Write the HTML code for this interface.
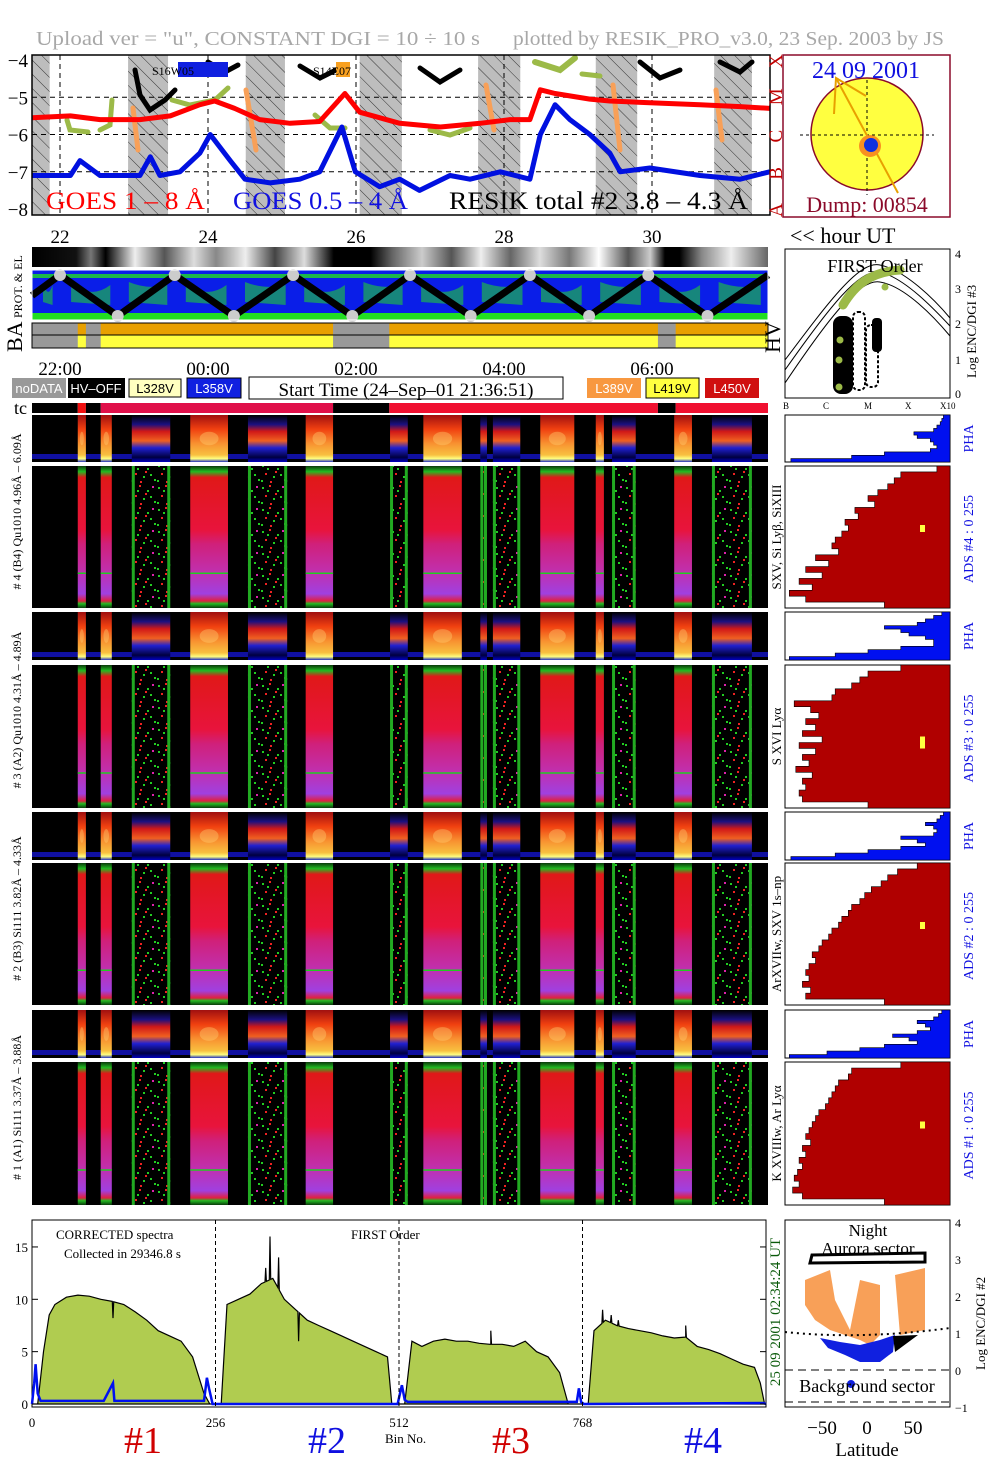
<!DOCTYPE html>
<html><head><meta charset="utf-8"><title>RESIK quicklook</title>
<style>
html,body{margin:0;padding:0;background:#fff;}
svg{display:block;font-family:"Liberation Serif",serif;}
</style></head>
<body>
<svg id="root" xmlns="http://www.w3.org/2000/svg" width="1004" height="1477" viewBox="0 0 1004 1477">
<defs>
 <pattern id="hatch" width="10" height="10" patternUnits="userSpaceOnUse" patternTransform="rotate(-45)">
  <rect width="10" height="10" fill="#bdbdbd"/><line x1="0" y1="0" x2="0" y2="10" stroke="#333" stroke-width="1"/>
 </pattern>
 <pattern id="noise" width="26" height="22" patternUnits="userSpaceOnUse">
  <rect width="26" height="22" fill="#000"/>
  <rect x="2" y="3" width="2" height="2" fill="#2c2"/><rect x="9" y="1" width="2" height="2" fill="#e22"/>
  <rect x="17" y="6" width="2" height="2" fill="#2c2"/><rect x="22" y="2" width="2" height="2" fill="#d2a"/>
  <rect x="5" y="11" width="2" height="2" fill="#e22"/><rect x="13" y="14" width="2" height="2" fill="#2c2"/>
  <rect x="20" y="12" width="2" height="2" fill="#2c2"/><rect x="1" y="18" width="2" height="2" fill="#2c2"/>
  <rect x="10" y="19" width="2" height="2" fill="#e22"/><rect x="24" y="17" width="2" height="2" fill="#2c2"/>
  <rect x="15" y="9" width="2" height="2" fill="#e22"/><rect x="7" y="6" width="2" height="2" fill="#2c2"/>
 </pattern>
 <linearGradient id="adsSolid" x1="0" y1="0" x2="0" y2="1">
  <stop offset="0" stop-color="#0a3a0a"/><stop offset="0.04" stop-color="#22bb22"/>
  <stop offset="0.08" stop-color="#e01818"/><stop offset="0.45" stop-color="#e8143c"/>
  <stop offset="0.55" stop-color="#d0207a"/><stop offset="0.75" stop-color="#c030b0"/>
  <stop offset="0.9" stop-color="#a040e0"/><stop offset="0.95" stop-color="#e02040"/>
  <stop offset="0.97" stop-color="#22bb22"/><stop offset="1" stop-color="#0a3a0a"/>
 </linearGradient>
 <linearGradient id="phaSolid" x1="0" y1="0" x2="0" y2="1">
  <stop offset="0" stop-color="#a01010"/><stop offset="0.3" stop-color="#f04010"/>
  <stop offset="0.6" stop-color="#f89030"/><stop offset="0.85" stop-color="#f8c040"/>
  <stop offset="0.93" stop-color="#ffff80"/><stop offset="1" stop-color="#2030c0"/>
 </linearGradient>
 <linearGradient id="phaNoise" x1="0" y1="0" x2="0" y2="1">
  <stop offset="0" stop-color="#000"/><stop offset="0.2" stop-color="#1a1080"/>
  <stop offset="0.35" stop-color="#d01818"/><stop offset="0.55" stop-color="#f06020"/>
  <stop offset="0.7" stop-color="#2020d0"/><stop offset="0.9" stop-color="#000040"/>
  <stop offset="1" stop-color="#0000c0"/>
 </linearGradient>
 <linearGradient id="grayStrip" x1="0" y1="0" x2="1" y2="0">
  <stop offset="0" stop-color="#000"/><stop offset="0.06" stop-color="#111"/><stop offset="0.08" stop-color="#777"/>
  <stop offset="0.1" stop-color="#000"/><stop offset="0.14" stop-color="#eee"/><stop offset="0.18" stop-color="#555"/>
  <stop offset="0.22" stop-color="#ddd"/><stop offset="0.25" stop-color="#888"/><stop offset="0.29" stop-color="#eee"/>
  <stop offset="0.33" stop-color="#444"/><stop offset="0.37" stop-color="#ddd"/><stop offset="0.41" stop-color="#000"/>
  <stop offset="0.46" stop-color="#000"/><stop offset="0.49" stop-color="#666"/><stop offset="0.53" stop-color="#ccc"/>
  <stop offset="0.57" stop-color="#555"/><stop offset="0.61" stop-color="#eee"/><stop offset="0.65" stop-color="#666"/>
  <stop offset="0.69" stop-color="#ddd"/><stop offset="0.73" stop-color="#777"/><stop offset="0.77" stop-color="#fff"/>
  <stop offset="0.81" stop-color="#555"/><stop offset="0.84" stop-color="#ccc"/><stop offset="0.86" stop-color="#000"/>
  <stop offset="0.88" stop-color="#000"/><stop offset="0.91" stop-color="#888"/><stop offset="0.95" stop-color="#eee"/>
  <stop offset="1" stop-color="#666"/>
 </linearGradient>
</defs>

<text x="36" y="45" font-size="20" fill="#a8a8a8" textLength="444" lengthAdjust="spacingAndGlyphs">Upload ver = "u", CONSTANT  DGI =  10 ÷  10 s</text>
<text x="513" y="45" font-size="20" fill="#a8a8a8" textLength="431" lengthAdjust="spacingAndGlyphs">plotted by RESIK_PRO_v3.0, 23 Sep. 2003 by JS</text>

<g id="goes"></g>
<g id="sun">
 <rect x="783" y="55" width="167" height="162" fill="#fff" stroke="#8b0a2a" stroke-width="1.5"/>
 <circle cx="867" cy="134" r="56" fill="#ffff40" stroke="#8b0a2a" stroke-width="1.5"/>
 <line x1="800" y1="135" x2="934" y2="135" stroke="#000" stroke-dasharray="3,3"/>
 <line x1="867" y1="80" x2="867" y2="195" stroke="#000" stroke-dasharray="3,3"/>
 <polyline points="834,114 836,78 866,96" fill="none" stroke="#e8a000" stroke-width="2"/>
 <line x1="836" y1="78" x2="898" y2="193" stroke="#e8a000" stroke-width="2"/>
 <circle cx="870" cy="146" r="11" fill="#f89020"/>
 <circle cx="871" cy="145" r="7" fill="#1030e0"/>
 <text x="866" y="78" font-size="24" fill="#1010e0" text-anchor="middle">24 09 2001</text>
 <text x="867" y="212" font-size="22" fill="#8b0a2a" text-anchor="middle">Dump: 00854</text>
</g>
<text x="790" y="243" font-size="22">&lt;&lt; hour UT</text>

<g id="days"></g>
<rect x="32" y="247" width="736" height="20" fill="url(#grayStrip)"/>
<g id="prot"></g>
<text x="0" y="0" font-size="12" transform="translate(22,318) rotate(-90)">PROT. &amp; EL</text>
<g id="ba"></g>
<text x="0" y="0" font-size="22" transform="translate(22,352) rotate(-90)">BA</text>
<text x="0" y="0" font-size="22" transform="translate(780,353) rotate(-90)">HV</text>

<g id="first">
 <rect x="785" y="249" width="165" height="149" fill="#fff" stroke="#000"/>
 <path d="M785,360 C830,300 860,260 880,265 C905,270 935,300 950,318" fill="none" stroke="#000"/>
 <path d="M785,370 C830,306 860,268 880,272 C905,278 935,310 950,326" fill="none" stroke="#000"/>
 <path d="M785,383 C830,316 860,278 880,282 C905,286 935,318 950,336" fill="none" stroke="#000"/>
 <path d="M843,305 C855,285 870,272 900,270" fill="none" stroke="#9cba48" stroke-width="9" stroke-linecap="round"/>
 <rect x="833" y="316" width="20" height="78" rx="8" fill="#000"/>
 <rect x="853" y="312" width="12" height="78" rx="5" fill="none" stroke="#000" stroke-width="2" stroke-dasharray="3,2"/>
 <rect x="866" y="325" width="12" height="62" rx="5" fill="none" stroke="#000" stroke-width="2" stroke-dasharray="3,2"/>
 <rect x="872" y="318" width="10" height="34" rx="4" fill="#000"/>
 <circle cx="840" cy="340" r="3.5" fill="#9cba48"/><circle cx="839" cy="360" r="3.5" fill="#9cba48"/>
 <circle cx="839" cy="387" r="3.5" fill="#9cba48"/><circle cx="885" cy="287" r="3.5" fill="#9cba48"/>
 <text x="875" y="272" font-size="18" text-anchor="middle">FIRST Order</text>
 <text x="955" y="258" font-size="12">4</text><text x="955" y="293" font-size="12">3</text>
 <text x="955" y="328" font-size="12">2</text><text x="955" y="364" font-size="12">1</text>
 <text x="955" y="398" font-size="12">0</text>
 <text x="0" y="0" font-size="13" transform="translate(976,378) rotate(-90)">Log ENC/DGI #3</text>
 <text x="783" y="409" font-size="9">B</text><text x="823" y="409" font-size="9">C</text>
 <text x="864" y="409" font-size="9">M</text><text x="905" y="409" font-size="9">X</text>
 <text x="940" y="409" font-size="9">X10</text>
</g>

<g id="times"></g>
<g>
 <rect x="12" y="378" width="54" height="20" fill="#999"/>
 <text x="39" y="393" font-size="13" fill="#fff" text-anchor="middle" font-family="Liberation Sans,sans-serif">noDATA</text>
 <rect x="68" y="378" width="57" height="20" fill="#000"/>
 <text x="96" y="393" font-size="13" fill="#fff" text-anchor="middle" font-family="Liberation Sans,sans-serif">HV–OFF</text>
 <rect x="129" y="379" width="52" height="18" fill="#ffffc0" stroke="#000"/>
 <text x="155" y="393" font-size="13" fill="#000" text-anchor="middle" font-family="Liberation Sans,sans-serif">L328V</text>
 <rect x="187" y="378" width="54" height="20" fill="#1020e0" stroke="#000"/>
 <text x="214" y="393" font-size="13" fill="#fff" text-anchor="middle" font-family="Liberation Sans,sans-serif">L358V</text>
 <rect x="249" y="377" width="314" height="22" fill="#fff" stroke="#000"/>
 <text x="406" y="396" font-size="19" text-anchor="middle">Start Time (24–Sep–01 21:36:51)</text>
 <rect x="587" y="378" width="54" height="20" fill="#f89840"/>
 <text x="614" y="393" font-size="13" fill="#fff" text-anchor="middle" font-family="Liberation Sans,sans-serif">L389V</text>
 <rect x="646" y="378" width="53" height="20" fill="#ffff40" stroke="#000"/>
 <text x="672" y="393" font-size="13" fill="#000" text-anchor="middle" font-family="Liberation Sans,sans-serif">L419V</text>
 <rect x="705" y="378" width="54" height="20" fill="#d01010"/>
 <text x="732" y="393" font-size="13" fill="#fff" text-anchor="middle" font-family="Liberation Sans,sans-serif">L450V</text>
</g>
<text x="14" y="414" font-size="18">tc</text>
<g id="tc"></g>
<g id="spec"></g>
<g id="hist"></g>
<g id="spectrum"></g>
<g id="lat"></g>
</svg>

<script>
// ---------------- DATA ----------------
const goesRedHours = [-0.38,0.14,0.54,1.08,1.49,1.89,2.09,2.36,2.7,3.11,3.51,3.85,4.05,4.59,5.14,5.68,6.08,6.35,6.49,6.69,7.16,7.43,7.97,8.65,9.19,9.59];
const goesRedValues = [-5.55,-5.5,-5.6,-5.6,-5.5,-5.2,-5.1,-5.3,-5.6,-5.7,-5.65,-4.9,-5.4,-5.7,-5.8,-5.7,-5.6,-5.6,-4.8,-4.9,-5.05,-5.1,-5.15,-5.2,-5.25,-5.3];
const goesBlueHours = [-0.38,0.14,0.27,0.54,1.08,1.22,1.35,1.62,1.89,2.03,2.3,2.5,2.84,3.24,3.51,3.81,3.99,4.32,4.59,4.86,5.27,5.54,5.95,6.35,6.49,6.69,6.89,7.16,7.43,7.57,7.97,8.65,9.19,9.59];
const goesBlueValues = [-7.1,-7.1,-6.7,-7.1,-7.1,-6.6,-7.1,-7.0,-6.5,-6.0,-6.7,-7.2,-7.3,-7.2,-7.0,-5.8,-7.0,-7.4,-7.2,-7.5,-7.1,-7.2,-7.0,-7.2,-6.0,-5.2,-5.6,-6.0,-6.5,-7.0,-6.9,-7.1,-7.2,-7.0];
const nightStart = [-0.38,0.92,2.51,4.05,5.65,7.24,8.84];
const nightEnd = [-0.14,1.46,3.04,4.62,6.22,7.8,9.35];
const yTicksGoes = [-4,-5,-6,-7,-8];
const flareClasses = ['X','M','C','B','A'];
const dayLabels = ['22','24','26','28','30'];
const timeLabels = ['22:00','00:00','02:00','04:00','06:00'];
const timeTickHours = [0,2,4,6,8];

const blockStart = [0.24,0.55,0.97,1.76,2.54,3.32,4.46,4.91,5.68,5.85,6.49,7.24,7.46,8.30,8.81];
const blockEnd   = [0.35,0.70,1.49,2.27,3.07,3.69,4.70,5.43,5.77,6.22,6.95,7.35,7.78,8.54,9.35];
const blockType  = ['s','s','n','s','n','s','n','s','n','n','s','s','n','s','n'];

const tcStart = [-0.38,0.24,0.35,0.55,3.69,4.45,8.08,8.32];
const tcEnd   = [0.24,0.35,0.55,3.69,4.45,8.08,8.32,9.57];
const tcColor = ['#000','#f01010','#000','#e0104a','#000','#f01030','#000','#f01030'];
const baGrayStart = [-0.38,0.35,3.69,8.08];
const baGrayEnd = [0.24,0.55,4.45,8.32];

const zigHours = [-0.38,0.0,0.78,1.55,2.35,3.15,3.95,4.73,5.55,6.35,7.15,7.95,8.75,9.57];
const zigLevel = [0.5,1,0,1,0,1,0,1,0,1,0,1,0,1];

const histAds4 = [0.08,0.3,0.34,0.38,0.44,0.5,0.46,0.58,0.56,0.64,0.62,0.66,0.7,0.72,0.68,0.82,0.74,0.88,0.78,0.92,0.84,0.98,0.88,0.4];
const histAds3 = [0.3,0.5,0.55,0.6,0.7,0.72,0.95,0.85,0.8,0.88,0.82,0.9,0.78,0.92,0.82,0.9,0.86,0.94,0.84,0.9,0.88,0.92,0.9,0.5];
const histAds2 = [0.2,0.32,0.38,0.42,0.48,0.52,0.55,0.6,0.62,0.66,0.68,0.72,0.74,0.78,0.8,0.84,0.82,0.86,0.88,0.86,0.9,0.85,0.88,0.4];
const histAds1 = [0.3,0.6,0.62,0.68,0.7,0.72,0.74,0.76,0.8,0.82,0.84,0.86,0.88,0.85,0.9,0.88,0.92,0.9,0.93,0.95,0.92,0.96,0.9,0.4];
const histPha4 = [0.04,0.05,0.06,0.08,0.1,0.22,0.2,0.12,0.1,0.08,0.12,0.4,0.6,0.97];
const histPha3 = [0.05,0.1,0.15,0.2,0.4,0.3,0.25,0.15,0.1,0.1,0.3,0.5,0.7,0.98];
const histPha2 = [0.04,0.06,0.08,0.15,0.1,0.08,0.1,0.3,0.2,0.15,0.3,0.5,0.7,0.97];
const histPha1 = [0.05,0.07,0.1,0.2,0.15,0.12,0.2,0.35,0.25,0.2,0.4,0.55,0.75,0.98];

const specBins = [0,8,16,24,32,48,64,80,96,112,128,144,160,176,192,208,224,240,248,256,
 264,272,288,304,320,336,352,368,384,400,416,432,448,464,480,496,502,512,
 520,530,544,560,576,592,608,624,640,656,672,688,704,720,736,748,768,
 776,784,800,816,832,848,864,880,896,912,928,944,960,976,992,1008,1016,1022];
const specValues = [0,0,5,8.5,9.5,10.2,10.4,10.3,10,9.8,9.5,8.8,8,7,6.5,6,4.5,1,0,0,
 0,9.5,10,10.5,11.5,12,10,9,8,7.5,7,6.5,6,5.5,5,4.5,0,0,
 0,6,5.5,6,6.2,6,6,5.8,5.7,5.7,5.5,6,5,4.5,3,0,0,
 0,7,8,7.5,7.2,7,6.8,6.5,6.3,6.4,5.5,5.2,4.8,4.3,3.8,3.5,2,0];
const spikeBins = [113,326,332,344,372,640,796,808,818,912];
const spikeValues = [8.2,13,16,14,6,7,9,8.5,8,7.5];
const blueBins = [0,3,5,8,12,100,113,115,240,244,247,252,256,510,516,520,524,760,763,766,770,1020,1024];
const blueValues = [0,2,3.8,1,0.3,0.3,2,0.3,0.3,2.5,1.5,0,0,0,1.8,0.4,0.2,0.2,1.5,0.2,0,0.1,0];
const specYTicks = [0,5,10,15];
const specXTicks = [0,256,512,768];

// ---------------- helpers ----------------
const NS='http://www.w3.org/2000/svg';
function mk(tag, attrs, parent){const e=document.createElementNS(NS,tag);for(const k in attrs)e.setAttribute(k,attrs[k]);parent.appendChild(e);return e;}
function txt(s, attrs, parent){const e=mk('text',attrs,parent);e.textContent=s;return e;}
const X=h=>60+h*74;
const G=id=>document.getElementById(id);

// ---------------- GOES panel ----------------
(function(){
 const g=G('goes');
 const Y=v=>60+(-4-v)*37.25;
 const bg=mk('rect',{x:32,y:55,width:738,height:160,fill:'#fff'},g);
 
 
 for(let i=0;i<nightStart.length;i++){
  const r=mk('rect',{x:X(nightStart[i]),y:55,width:X(nightEnd[i])-X(nightStart[i]),height:160,fill:'url(#hatch)'},g);
  
  
 }
 yTicksGoes.forEach(v=>{
  if(v>-8&&v<-4){const l=mk('line',{x1:32,x2:770,y1:Y(v),y2:Y(v),stroke:'#000','stroke-dasharray':'5,4'},g);
  
  }
  const t=txt('−'+Math.abs(v),{x:28,y:Y(v)+7,'font-size':19,'text-anchor':'end'},g);
  
  
 });
 timeTickHours.forEach(h=>{const l=mk('line',{x1:X(h),x2:X(h),y1:55,y2:215,stroke:'#000','stroke-dasharray':'5,4'},g);
  
  });
 const deco=[['M135,70 L140,95 L150,110 L165,100 L175,90','#000',5],['M208,62 L225,72 L238,65','#000',5],
  ['M300,66 L320,78 L340,68','#000',5],['M420,68 L440,82 L460,70','#000',5],['M535,62 L560,70 L575,58','#9cba48',6],
  ['M640,62 L660,78 L680,70','#000',5],['M720,62 L740,72 L752,62','#000',5],
  ['M133,108 L138,150','#f8a058',5],['M246,90 L256,150','#f8a058',5],['M486,85 L494,130','#f8a058',5],
  ['M613,85 L620,150','#f8a058',5],['M716,90 L722,140','#f8a058',5],
  ['M67,120 L70,130 L88,132','#9cba48',5],['M100,130 L110,125 L112,100','#9cba48',5],
  ['M172,100 L190,105 L215,100 L228,88','#9cba48',5],['M315,115 L330,128 L345,128','#9cba48',5],
  ['M430,130 L450,135 L470,128','#9cba48',5],['M582,74 L600,76','#9cba48',5]];
 deco.forEach(d=>{const p=mk('path',{d:d[0],fill:'none',stroke:d[1],'stroke-width':d[2],'stroke-linecap':'round'},g);
  
  });
 const mkLine=(hs,vs,color,name)=>{
  const p=mk('polyline',{points:hs.map((h,i)=>X(h).toFixed(1)+','+Y(vs[i]).toFixed(1)).join(' '),fill:'none',stroke:color,'stroke-width':5,'stroke-linejoin':'round'},g);
  
  
 };
 mkLine(goesRedHours,goesRedValues,'#ff0000','goes-1-8-line');
 mkLine(goesBlueHours,goesBlueValues,'#0010e0','goes-05-4-line');
 const fr=mk('rect',{x:32,y:55,width:738,height:160,fill:'none',stroke:'#000','stroke-width':1.5},g);
 
 
 const labs=[['GOES 1 – 8 Å',46,'#ff0000',159],['GOES 0.5 – 4 Å',233,'#1010e0',175],['RESIK total #2  3.8 – 4.3 Å',449,'#000',299]];
 labs.forEach(l=>{const t=txt(l[0],{x:l[1],y:209,'font-size':25,fill:l[2],textLength:l[3],lengthAdjust:'spacingAndGlyphs'},g);
  
  });
 const s1=mk('rect',{x:178,y:62,width:50,height:15,fill:'#1020e0'},g);
 
 
 txt('S16W05',{x:152,y:75,'font-size':12},g);
 const s2=mk('rect',{x:336,y:62,width:14,height:15,fill:'#f8a020'},g);
 
 
 txt('S14E07',{x:313,y:75,'font-size':12},g);
 flareClasses.forEach((c,i)=>{const t=txt(c,{x:0,y:0,'font-size':19,fill:'#c00000',transform:`translate(782,${Y(-4-i)+8}) rotate(-90)`},g);
  
  });
})();

// ---------------- day/time labels ----------------
(function(){
 const g=G('days');
 dayLabels.forEach((d,i)=>{const t=txt(d,{x:X(timeTickHours[i]),y:243,'font-size':19,'text-anchor':'middle'},g);
  
  });
 const g2=G('times');
 timeLabels.forEach((d,i)=>{const t=txt(d,{x:X(timeTickHours[i]),y:375,'font-size':19,'text-anchor':'middle'},g2);
  
  });
})();

// ---------------- PROT & EL ----------------
(function(){
 const g=G('prot');
 const bg=mk('rect',{x:32,y:270,width:736,height:50,fill:'#0a1ee8'},g);
 
 
 const gb=mk('rect',{x:32,y:313,width:736,height:7,fill:'#22dd22'},g);
 
 
 const gt=mk('rect',{x:32,y:274,width:736,height:4,fill:'#22dd22',opacity:0.8},g);
 
 
 for(let i=0;i<zigHours.length-1;i++){
  const a=X(zigHours[i]+0.15),b=X(zigHours[i+1]-0.1);
  const p=mk('path',{d:`M${a},282 Q${(a+b)/2},${zigLevel[i]?300:290} ${b},285 L${b},305 L${a},302 Z`,fill:'#22dd22',opacity:0.55},g);
  
  
 }
 const Y=l=>316-l*41;
 const pl=mk('polyline',{points:zigHours.map((h,i)=>Math.max(32,X(h))+','+Y(zigLevel[i])).join(' '),fill:'none',stroke:'#000','stroke-width':7},g);
 
 
 zigHours.forEach((h,i)=>{if(i>0&&i<zigHours.length-1){const c=mk('circle',{cx:X(h),cy:Y(zigLevel[i]),r:6,fill:'#ccc'},g);
  
  }});
 const f=mk('rect',{x:32,y:270,width:736,height:50,fill:'none',stroke:'#fff'},g);
 
 
})();

// ---------------- BA strip ----------------
(function(){
 const g=G('ba');
 const o=mk('rect',{x:32,y:323,width:736,height:12,fill:'#e8a000'},g);
 
 
 const yl=mk('rect',{x:32,y:335,width:736,height:13,fill:'#ffff40'},g);
 
 
 for(let i=0;i<baGrayStart.length;i++){
  const r=mk('rect',{x:Math.max(32,X(baGrayStart[i])),y:323,width:X(baGrayEnd[i])-Math.max(32,X(baGrayStart[i])),height:25,fill:'#999'},g);
  
  
 }
 mk('line',{x1:32,x2:768,y1:335,y2:335,stroke:'#000'},g);
 const f=mk('rect',{x:32,y:323,width:736,height:25,fill:'none',stroke:'#000'},g);
 
 
})();

// ---------------- tc strip ----------------
(function(){
 const g=G('tc');
 for(let i=0;i<tcStart.length;i++){
  const x0=Math.max(32,X(tcStart[i])),x1=Math.min(768,X(tcEnd[i]));
  const r=mk('rect',{x:x0,y:403,width:x1-x0,height:10,fill:tcColor[i]},g);
  
  
 }
})();

// ---------------- spectrograms ----------------
const phaPanels=[[415,462],[612,660],[812,860],[1010,1058]];
const adsPanels=[[466,608],[665,808],[863,1005],[1062,1205]];
(function(){
 const g=G('spec');
 phaPanels.forEach((p,k)=>{
  const bg=mk('rect',{x:32,y:p[0],width:736,height:p[1]-p[0],fill:'#000'},g);
  
  
  const band=mk('rect',{x:32,y:p[1]-8,width:736,height:5,fill:'#1010a0'},g);
  
  
  for(let i=0;i<blockStart.length;i++){
   const x0=X(blockStart[i]),x1=X(blockEnd[i]);
   const r=mk('rect',{x:x0,y:p[0],width:x1-x0,height:p[1]-p[0],fill:blockType[i]==='s'?'url(#phaSolid)':'url(#phaNoise)'},g);
   
   
   if(blockType[i]==='s'){
    const e=mk('ellipse',{cx:(x0+x1)/2,cy:(p[0]+p[1])/2,rx:(x1-x0)/4,ry:(p[1]-p[0])/7,fill:'#ffd070',opacity:0.4},g);
    
    
   }
  }
 });
 adsPanels.forEach((p,k)=>{
  const bg=mk('rect',{x:32,y:p[0],width:736,height:p[1]-p[0],fill:'#000'},g);
  
  
  for(let i=0;i<blockStart.length;i++){
   const x0=X(blockStart[i]),x1=X(blockEnd[i]);
   const r=mk('rect',{x:x0,y:p[0],width:x1-x0,height:p[1]-p[0],fill:blockType[i]==='s'?'url(#adsSolid)':'url(#noise)'},g);
   
   
   if(blockType[i]==='n'){
    const e1=mk('rect',{x:x0,y:p[0],width:3,height:p[1]-p[0],fill:'#22aa22'},g);
    
    
    const e2=mk('rect',{x:x1-3,y:p[0],width:3,height:p[1]-p[0],fill:'#22aa22'},g);
    
    
   } else {
    const gl=mk('rect',{x:x0,y:p[0]+(p[1]-p[0])*0.75,width:x1-x0,height:1.5,fill:'#22cc22'},g);
    
    
   }
  }
 });
 const labels=['# 4 (B4) Qu1010 4.96Å – 6.09Å','# 3 (A2) Qu1010 4.31Å – 4.89Å','# 2 (B3) Si111 3.82Å – 4.33Å','# 1 (A1) Si111 3.37Å – 3.88Å'];
 labels.forEach((s,k)=>{const c=(phaPanels[k][0]+adsPanels[k][1])/2;
  const t=txt(s,{x:0,y:0,'font-size':12,'text-anchor':'middle',transform:`translate(21,${c}) rotate(-90)`},g);
  
  });
 const lines=['SXV, Si Lyβ, SiXIII','S XVI Lyα','ArXVIIw, SXV 1s–np','K XVIIIw, Ar Lyα'];
 lines.forEach((s,k)=>{const c=(adsPanels[k][0]+adsPanels[k][1])/2;
  const t=txt(s,{x:0,y:0,'font-size':13,'text-anchor':'middle',transform:`translate(781,${c}) rotate(-90)`},g);
  
  });
})();

// ---------------- histograms ----------------
(function(){
 const g=G('hist');
 const L=786,W=164;
 const draw=(arr,y0,y1,color,name)=>{
  const fr=mk('rect',{x:785,y:y0,width:165,height:y1-y0,fill:'#fff',stroke:'#000'},g);
  
  
  const n=arr.length,h=(y1-y0)/n;
  let d=`M${L+W},${y0}`;
  arr.forEach((v,i)=>{const x=L+W-v*W;d+=` L${x.toFixed(1)},${(y0+i*h).toFixed(1)} L${x.toFixed(1)},${(y0+(i+1)*h).toFixed(1)}`;});
  d+=` L${L+W},${y1} Z`;
  const p=mk('path',{d:d,fill:color,stroke:'#000','stroke-width':0.6},g);
  
  
 };
 const ads=[histAds4,histAds3,histAds2,histAds1],pha=[histPha4,histPha3,histPha2,histPha1];
 ads.forEach((a,k)=>{draw(a,adsPanels[k][0],adsPanels[k][1],'#b00000','ads-histogram-'+(4-k));
  const y=(adsPanels[k][0]+adsPanels[k][1])/2-(k==1?0:12);
  const m=mk('rect',{x:920,y:y,width:5,height:k==1?12:7,fill:'#ffff40'},g);
  
  
  const t=txt('ADS #'+(4-k)+' :    0 255',{x:0,y:0,'font-size':14,fill:'#1010e0','text-anchor':'middle',transform:`translate(973,${(adsPanels[k][0]+adsPanels[k][1])/2+2}) rotate(-90)`},g);
  
  });
 pha.forEach((a,k)=>{draw(a,phaPanels[k][0],phaPanels[k][1],'#0010f0','pha-histogram-'+(4-k));
  const t=txt('PHA',{x:0,y:0,'font-size':14,fill:'#1010e0','text-anchor':'middle',transform:`translate(973,${(phaPanels[k][0]+phaPanels[k][1])/2}) rotate(-90)`},g);
  
  });
})();

// ---------------- spectrum ----------------
(function(){
 const g=G('spectrum');
 const SX=b=>32+b*0.7168, SY=v=>1404-v*10.47;
 const fr=mk('rect',{x:32,y:1220,width:734,height:187,fill:'#fff',stroke:'#000'},g);
 
 
 const pts=specBins.map((b,i)=>[b,specValues[i]]);
 spikeBins.forEach((b,i)=>{pts.push([b-1,null]);pts.push([b,spikeValues[i]]);pts.push([b+1,null]);});
 pts.sort((a,b)=>a[0]-b[0]);
 const interp=b=>{for(let i=0;i<specBins.length-1;i++){if(b>=specBins[i]&&b<=specBins[i+1]){const t=(b-specBins[i])/(specBins[i+1]-specBins[i]);return specValues[i]+t*(specValues[i+1]-specValues[i]);}}return 0;};
 const full=pts.map(p=>[p[0],p[1]===null?interp(p[0]):p[1]]);
 let d=`M${SX(0)},${SY(0)}`;
 full.forEach(p=>{d+=` L${SX(p[0]).toFixed(1)},${SY(p[1]).toFixed(1)}`;});
 d+=` L${SX(1023)},${SY(0)} Z`;
 const area=mk('path',{d:d,fill:'#b0cc50',stroke:'#000','stroke-width':1.2},g);
 
 
 const bl=mk('polyline',{points:blueBins.map((b,i)=>SX(b).toFixed(1)+','+SY(blueValues[i]).toFixed(1)).join(' '),fill:'none',stroke:'#0010f0','stroke-width':2.5},g);
 
 
 [256,512,768].forEach(b=>{const l=mk('line',{x1:SX(b),x2:SX(b),y1:1220,y2:1407,stroke:'#000','stroke-dasharray':'4,3'},g);
  
  });
 specYTicks.forEach(v=>{const t=txt(String(v),{x:28,y:SY(v)+5,'font-size':13,'text-anchor':'end'},g);
  
  
  mk('line',{x1:32,x2:38,y1:SY(v),y2:SY(v),stroke:'#000'},g);
  mk('line',{x1:760,x2:766,y1:SY(v),y2:SY(v),stroke:'#000'},g);});
 specXTicks.forEach(b=>{const t=txt(String(b),{x:SX(b),y:1427,'font-size':13,'text-anchor':'middle'},g);
  
  });
 txt('CORRECTED spectra',{x:56,y:1239,'font-size':13},g);
 txt('Collected in 29346.8 s',{x:64,y:1258,'font-size':13},g);
 txt('FIRST Order',{x:351,y:1239,'font-size':13},g);
 txt('Bin No.',{x:385,y:1443,'font-size':13},g);
 [['#1',143,'#d00000'],['#2',327,'#1010e0'],['#3',511,'#d00000'],['#4',703,'#1010e0']].forEach(a=>{
  const t=txt(a[0],{x:a[1],y:1453,'font-size':38,fill:a[2],'text-anchor':'middle'},g);
  
  });
 const dt=txt('25 09 2001   02:34:24 UT',{x:0,y:0,'font-size':15,fill:'#0a5a0a','text-anchor':'middle',transform:'translate(780,1312) rotate(-90)'},g);
 
 
})();

// ---------------- latitude panel ----------------
(function(){
 const g=G('lat');
 const fr=mk('rect',{x:785,y:1220,width:165,height:187,fill:'#fff',stroke:'#000'},g);
 
 
 const LY=v=>1370-v*37;
 const orange=mk('path',{d:'M805,1280 L830,1270 L835,1300 L850,1330 L860,1280 L880,1285 L880,1335 L870,1345 L860,1340 L845,1335 L830,1330 L815,1320 L805,1305 Z M895,1275 L925,1268 L925,1330 L900,1335 Z',fill:'#f8a058'},g);
 
 
 const blue=mk('path',{d:'M820,1338 L840,1342 L860,1345 L880,1340 L895,1335 L893,1352 L880,1362 L860,1362 L845,1355 L828,1348 Z',fill:'#1020e0'},g);
 
 
 const blk=mk('path',{d:'M893,1336 L918,1335 L895,1352 Z',fill:'#000'},g);
 
 
 const cloud=mk('path',{d:'M812,1255 L925,1253 L925,1262 L810,1263 Z',fill:'none',stroke:'#000','stroke-width':3},g);
 
 
 mk('path',{d:'M785,1332 Q860,1340 950,1328',fill:'none',stroke:'#000','stroke-dasharray':'2,4','stroke-width':2},g);
 mk('line',{x1:785,x2:950,y1:LY(0),y2:LY(0),stroke:'#000','stroke-dasharray':'8,5'},g);
 mk('line',{x1:785,x2:950,y1:1402,y2:1402,stroke:'#000','stroke-dasharray':'8,5'},g);
 mk('circle',{cx:851,cy:1384,r:4,fill:'#1020e0'},g);
 txt('Night',{x:868,y:1236,'font-size':17,'text-anchor':'middle'},g);
 txt('Aurora sector',{x:868,y:1254,'font-size':17,'text-anchor':'middle'},g);
 txt('Background sector',{x:867,y:1392,'font-size':18,'text-anchor':'middle'},g);
 [4,3,2,1,0,-1].forEach(v=>{const t=txt(v<0?'−1':String(v),{x:955,y:LY(v)+5,'font-size':12},g);
  
  });
 txt('Log ENC/DGI #2',{x:0,y:0,'font-size':13,transform:'translate(985,1370) rotate(-90)'},g);
 [['−50',822],['0',867],['50',913]].forEach(a=>{const t=txt(a[0],{x:a[1],y:1434,'font-size':19,'text-anchor':'middle'},g);
  
  });
 txt('Latitude',{x:867,y:1456,'font-size':19,'text-anchor':'middle'},g);
})();
</script>
</body></html>
